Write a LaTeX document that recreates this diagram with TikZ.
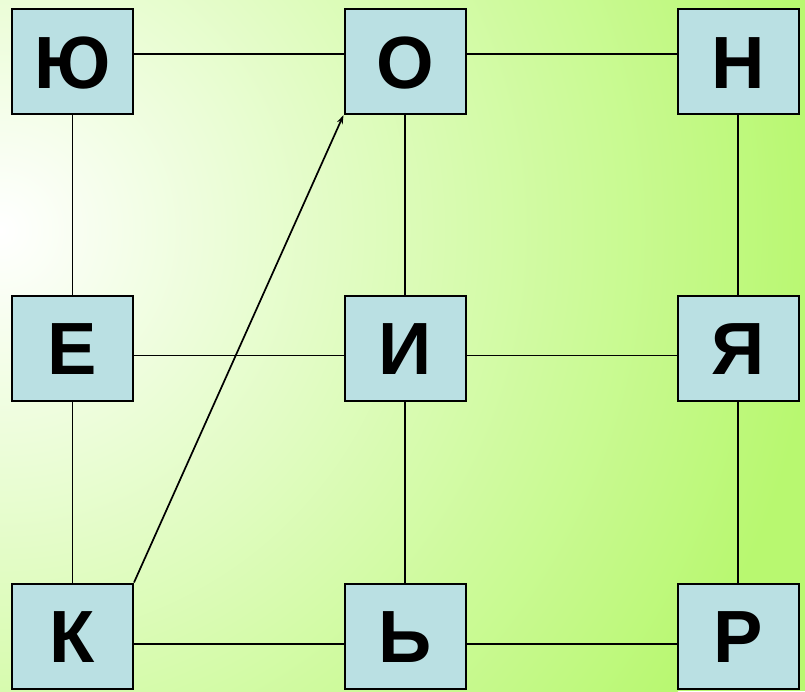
\documentclass[tikz,border=0pt]{standalone}
\usepackage{fontspec}
\setmainfont{Liberation Sans}
\usetikzlibrary{arrows.meta}
\definecolor{bgG}{HTML}{B8F870}
\definecolor{boxF}{HTML}{BAE0E3}
\begin{document}
\begin{tikzpicture}[x=1pt,y=-1pt,
  letterbox/.style={draw=black,line width=2pt,fill=boxF,minimum width=121pt,minimum height=105pt,
    inner sep=0pt,text height=53pt,text depth=0pt,font=\fontsize{74}{74}\selectfont\bfseries},
  link/.style={line width=1.7pt,draw=black}]
\useasboundingbox (0,0) rectangle (805,691);
\begin{scope}
\clip (0,0) rectangle (805,691);
\fill[bgG] (0,0) rectangle (805,691);
\shade[inner color=white,outer color=bgG] (0,230) circle (820pt);
\end{scope}
\node[letterbox] (yu) at (72.5,61.5) {Ю};
\node[letterbox] (o) at (405,61.5) {О};
\node[letterbox] (n) at (738,61.5) {Н};
\node[letterbox] (e) at (72.5,348) {Е};
\node[letterbox] (i) at (405,348) {И};
\node[letterbox] (ya) at (738,348) {Я};
\node[letterbox] (k) at (72.5,636) {К};
\node[letterbox] (mz) at (405,636) {Ь};
\node[letterbox] (r) at (738,636) {Р};
\draw[link] ([yshift=7.5pt]yu.east) -- ([yshift=7.5pt]o.west);
\draw[link] ([yshift=7.5pt]o.east) -- ([yshift=7.5pt]n.west);
\draw[link] ([yshift=-7.5pt]e.east) -- ([yshift=-7.5pt]i.west);
\draw[link] ([yshift=-7.5pt]i.east) -- ([yshift=-7.5pt]ya.west);
\draw[link] ([yshift=-8pt]k.east) -- ([yshift=-8pt]mz.west);
\draw[link] ([yshift=-8pt]mz.east) -- ([yshift=-8pt]r.west);
\draw[link] (yu.south) -- (e.north);
\draw[link] (o.south) -- (i.north);
\draw[link] (n.south) -- (ya.north);
\draw[link] (e.south) -- (k.north);
\draw[link] (i.south) -- (mz.north);
\draw[link] (ya.south) -- (r.north);
\draw[link,-{Stealth[length=9pt,width=6pt]}] (k.north east) -- (o.south west);
\end{tikzpicture}
\end{document}
